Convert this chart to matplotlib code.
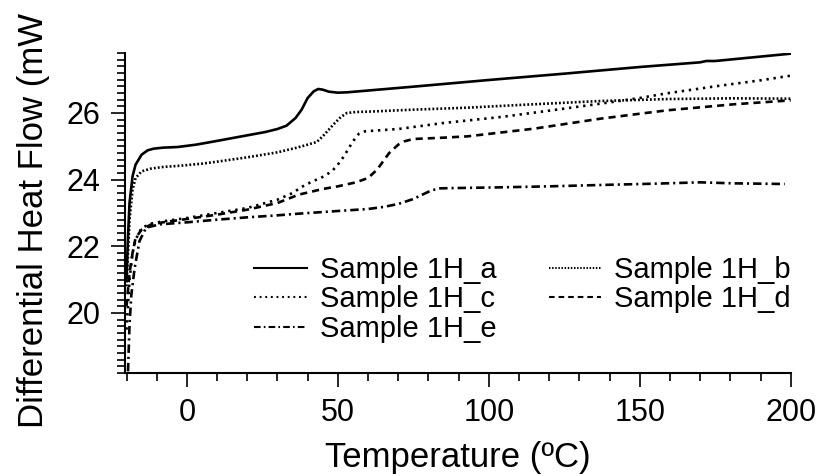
import matplotlib
matplotlib.use("Agg")
import matplotlib.pyplot as plt
from matplotlib.ticker import MultipleLocator

plt.rcParams['font.family'] = ['Liberation Sans', 'DejaVu Sans']

# ---- data ----
T_a = [-20, -19.5, -19, -18, -17, -15, -13, -11, -8, -3, 3, 8, 14, 20, 26, 30, 33, 36, 38, 40, 42,
       43.5, 45, 47, 50, 53, 75, 100, 125, 150, 170, 172, 175, 200]
a = [21.0, 22.3, 23.3, 24.1, 24.45, 24.75, 24.88, 24.93, 24.96, 24.98, 25.05, 25.13, 25.23, 25.33,
     25.43, 25.52, 25.62, 25.85, 26.1, 26.45, 26.65, 26.72, 26.7, 26.64, 26.61, 26.62, 26.79, 26.99,
     27.18, 27.38, 27.52, 27.56, 27.56, 27.78]

T_b = [-20, -19.5, -19, -18, -17, -15, -12, -8, -2, 5, 10, 20, 30, 36, 40, 43, 45, 47, 49, 51, 53,
       56, 60, 75, 93, 110, 137, 160, 180, 200]
b = [20.8, 21.8, 22.8, 23.7, 24.05, 24.25, 24.33, 24.38, 24.42, 24.48, 24.54, 24.67, 24.82, 24.95,
     25.05, 25.13, 25.3, 25.5, 25.7, 25.88, 26.0, 26.03, 26.04, 26.1, 26.16, 26.24, 26.36, 26.42,
     26.44, 26.43]

T_c = [-20, -19, -18, -17, -15, -12, -8, 0, 10, 20, 30, 35, 38, 42, 44, 48, 50, 52, 55, 57, 59, 62,
       70, 85, 104, 120, 137, 150, 159, 175, 190, 200]
c = [19.5, 21.0, 21.8, 22.2, 22.55, 22.68, 22.75, 22.85, 23.0, 23.15, 23.4, 23.6, 23.78, 23.97,
     24.03, 24.25, 24.45, 24.7, 25.15, 25.38, 25.45, 25.47, 25.52, 25.7, 25.88, 26.07, 26.28, 26.45,
     26.59, 26.8, 26.98, 27.12]

T_d = [-20, -19, -18, -17, -15, -12, -8, 0, 10, 20, 30, 37, 45, 50, 56, 60, 63, 65, 67, 70, 72, 75,
       85, 93, 115, 137, 159, 181, 200]
d = [20.2, 21.2, 21.8, 22.25, 22.5, 22.65, 22.72, 22.82, 22.95, 23.1, 23.3, 23.55, 23.72, 23.8,
     23.92, 24.05, 24.3, 24.55, 24.8, 25.05, 25.15, 25.22, 25.26, 25.3, 25.53, 25.83, 26.08, 26.26,
     26.38]

T_e = [-19.5, -19, -18.4, -17.3, -15.7, -13.5, -9, 0, 10, 20, 30, 37, 50, 60, 65, 70, 75, 78, 81, 84,
       90, 104, 120, 137, 155, 170, 181, 190, 198]
e = [18.25, 19.65, 20.55, 21.35, 22.16, 22.56, 22.66, 22.72, 22.8, 22.87, 22.93, 22.98, 23.06, 23.12,
     23.18, 23.27, 23.42, 23.55, 23.68, 23.74, 23.75, 23.77, 23.8, 23.84, 23.88, 23.92, 23.89, 23.88,
     23.87]

labels = ["Sample 1H_a", "Sample 1H_b", "Sample 1H_c", "Sample 1H_d", "Sample 1H_e"]
x_ticks = [0, 50, 100, 150, 200]
y_ticks = [20, 22, 24, 26]

# ---- figure ----
W, H = 823, 476
fig = plt.figure(figsize=(W / 100, H / 100), dpi=100)
ax = fig.add_axes([125 / W, 1 - 373 / H, (790.7 - 125) / W, (373 - 53) / H])

lw = 1.9
la, = ax.plot(T_a, a, color='black', lw=lw, linestyle='-')
lb, = ax.plot(T_b, b, color='black', lw=lw, linestyle=(0, (0.7, 0.8)))
lc, = ax.plot(T_c, c, color='black', lw=lw, linestyle=(0, (0.9, 1.8)))
ld, = ax.plot(T_d, d, color='black', lw=lw, linestyle=(0, (2.7, 1.9)))
le, = ax.plot(T_e, e, color='black', lw=lw, linestyle=(0, (3.2, 1.5, 0.8, 1.5)))

ax.set_xlim(-20.5, 200)
ax.set_ylim(18.2, 27.8)
ax.set_xticks(x_ticks)
ax.set_yticks(y_ticks)
ax.xaxis.set_minor_locator(MultipleLocator(10))
ax.yaxis.set_minor_locator(MultipleLocator(0.2))

for s in ['top', 'right']:
    ax.spines[s].set_visible(False)
for s in ['left', 'bottom']:
    ax.spines[s].set_linewidth(1.5)

ax.tick_params(which='major', direction='out', length=10, width=1.2, labelsize=22, pad=8)
ax.tick_params(which='minor', direction='out', length=5.5, width=1.2)

ax.set_xlabel("Temperature (ºC)", fontsize=25, labelpad=9)
fig.text(34 / W, 1 - 220 / H, "Differential Heat Flow (mW", rotation=90,
         ha='center', va='center', fontsize=25)

# row-major legend order (a b / c d / e): matplotlib fills columns first
order = [0, 2, 4, 1, 3]
handles = [la, lb, lc, ld, le]
leg = ax.legend([handles[i] for i in order], [labels[i] for i in order], ncol=2,
                frameon=False, fontsize=21,
                loc='upper left', bbox_to_anchor=(254 / W, 1 - 256 / H),
                bbox_transform=fig.transFigure, borderpad=0, borderaxespad=0,
                handlelength=1.8, handletextpad=0.45, columnspacing=1.8,
                labelspacing=0.05)
for h in leg.legend_handles:
    h.set_linewidth(1.5)

fig.savefig("out.png", dpi=100)
